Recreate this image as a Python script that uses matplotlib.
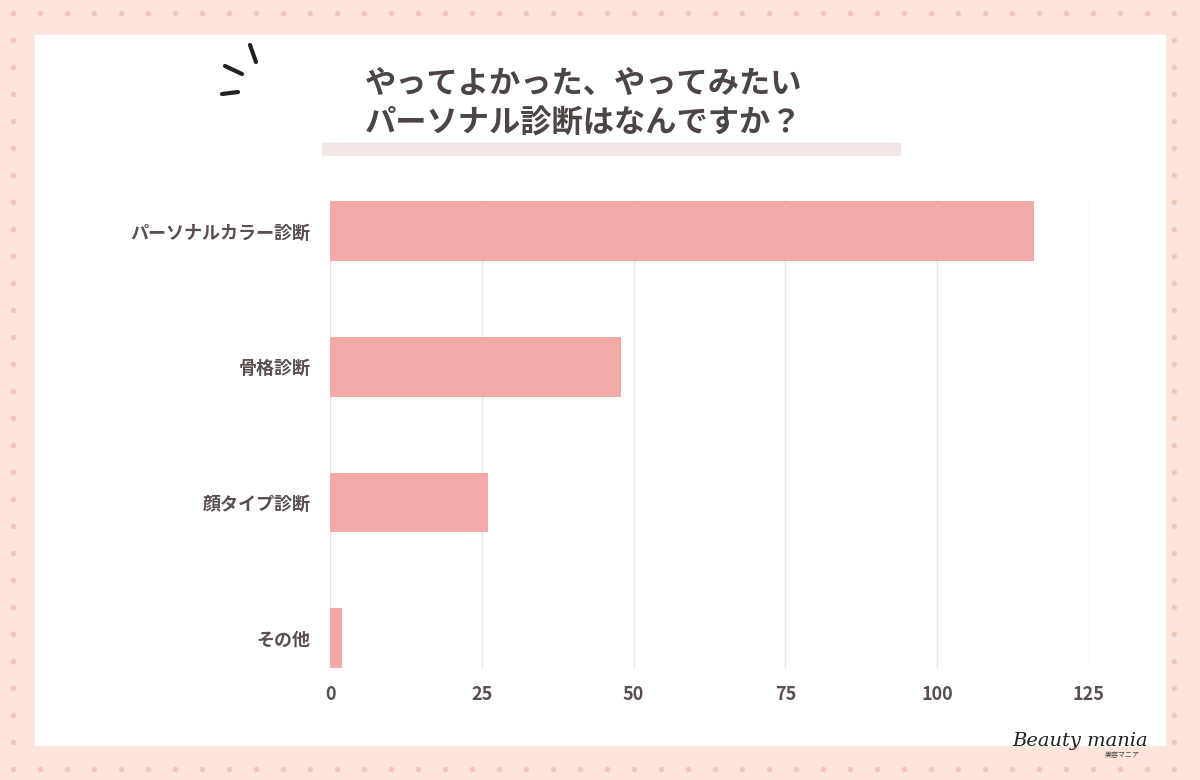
import numpy as np
import matplotlib.pyplot as plt
from matplotlib.patches import Rectangle

plt.rcParams['font.family'] = 'Noto Sans CJK JP'

categories = ['パーソナルカラー診断', '骨格診断', '顔タイプ診断', 'その他']
values = [116, 48, 26, 2]
ticks = [0, 25, 50, 75, 100, 125]
title = 'やってよかった、やってみたい\nパーソナル診断はなんですか？'

W, H = 1200, 780
fig = plt.figure(figsize=(12, 7.8), dpi=100)
fig.patch.set_facecolor('#fde4dd')

# dotted background
bg = fig.add_axes([0, 0, 1, 1])
bg.set_xlim(0, W)
bg.set_ylim(H, 0)
bg.axis('off')
gx, gy = np.meshgrid(np.arange(13, W, 27), np.arange(13, H, 27))
bg.scatter(gx.ravel(), gy.ravel(), s=16, color='#f6c6bb', lw=0)
bg.add_patch(Rectangle((35, 35), 1130, 710, color='white', zorder=2))
bg.add_patch(Rectangle((322, 143), 578, 12, color='#f5e6e6', zorder=3))
bg.text(365, 104, title, fontsize=22.5, fontweight='bold', color='#4d4444',
        va='center', ha='left', linespacing=1.3, zorder=4)
# decorative strokes
for (x0, y0, x1, y1) in [(250, 45, 256, 62), (225, 66, 242, 74), (222, 94, 238, 92)]:
    bg.plot([x0, x1], [y0, y1], color='#222', lw=3, solid_capstyle='round', zorder=4)
bg.text(1012, 746, 'Beauty mania', fontsize=14, fontstyle='italic',
        fontfamily='DejaVu Serif', color='#222', zorder=4)
bg.text(1105, 757, '美容マニア', fontsize=5, color='#444', zorder=4)

ax = fig.add_axes([330 / W, 1 - 668 / H, 759 / W, 468 / H])
ax.patch.set_alpha(0)
y = np.arange(len(categories))
ax.barh(y, values, height=0.44, color='#f2a9a8', zorder=3)
ax.set_ylim(3.22, -0.23)
ax.set_xlim(0, 125)
ax.set_xticks(ticks)
ax.set_yticks(y)
ax.set_yticklabels(categories)
ax.grid(axis='x', color='#e6e6e6', lw=1)
for s in ax.spines.values():
    s.set_visible(False)
ax.tick_params(length=0, labelsize=13, labelcolor='#5a4e4e')
ax.tick_params(axis='y', pad=14)
ax.tick_params(axis='x', pad=12)
for lab in ax.get_xticklabels() + ax.get_yticklabels():
    lab.set_fontweight('bold')

plt.savefig('out.png', dpi=100, facecolor=fig.get_facecolor())
